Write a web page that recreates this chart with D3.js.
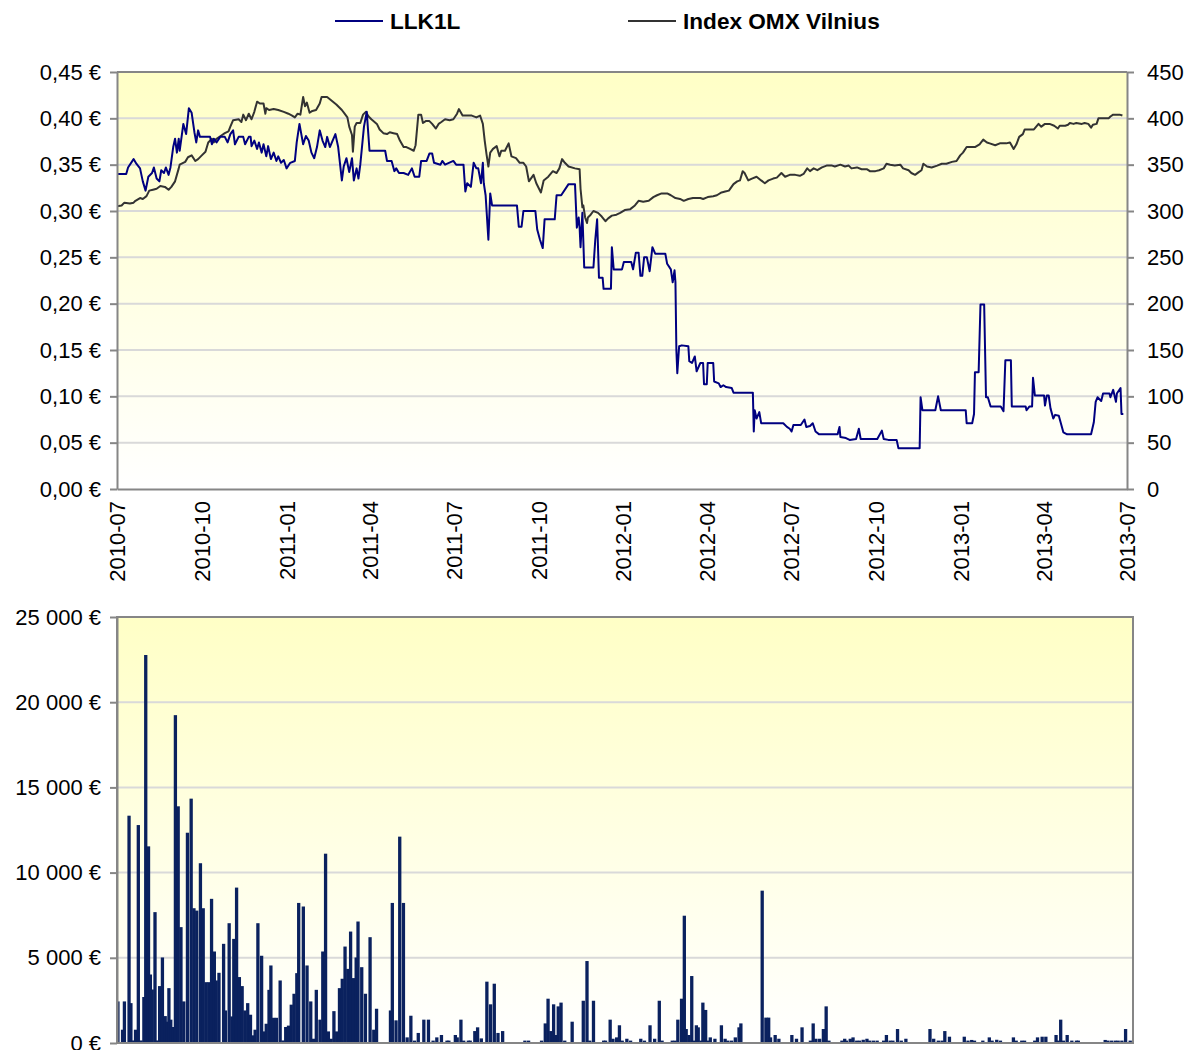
<!DOCTYPE html>
<html>
<head>
<meta charset="utf-8">
<script src="https://cdn.jsdelivr.net/npm/d3@7"></script>
<style>
  body { margin: 0; background: #fff; }
  text { font-family: Arial, "Liberation Sans", sans-serif; fill: #000; }
</style>
</head>
<body>
<svg id="chart" width="1188" height="1050"></svg>
<script>
// LLK1L share price, EUR
const llk1l = [
  ["2010-07-01",0.34],["2010-07-11",0.34],["2010-07-13",0.347],["2010-07-19",0.356],["2010-07-22",0.351],
  ["2010-07-26",0.346],["2010-07-29",0.332],["2010-08-01",0.322],["2010-08-04",0.337],["2010-08-08",0.341],
  ["2010-08-10",0.347],["2010-08-13",0.335],["2010-08-16",0.332],["2010-08-18",0.344],["2010-08-21",0.341],
  ["2010-08-23",0.347],["2010-08-26",0.339],["2010-08-28",0.347],["2010-08-31",0.369],["2010-09-02",0.378],
  ["2010-09-04",0.363],["2010-09-06",0.378],["2010-09-07",0.365],["2010-09-11",0.394],["2010-09-14",0.383],
  ["2010-09-17",0.411],["2010-09-20",0.406],["2010-09-23",0.385],["2010-09-25",0.374],["2010-09-27",0.387],
  ["2010-09-29",0.38],["2010-10-10",0.38],["2010-10-12",0.372],["2010-10-14",0.378],["2010-10-17",0.374],
  ["2010-10-21",0.38],["2010-10-26",0.38],["2010-10-29",0.374],["2010-11-01",0.383],["2010-11-04",0.387],
  ["2010-11-06",0.372],["2010-11-10",0.38],["2010-11-15",0.38],["2010-11-17",0.372],["2010-11-21",0.38],
  ["2010-11-23",0.38],["2010-11-24",0.37],["2010-11-27",0.376],["2010-11-30",0.367],["2010-12-02",0.374],
  ["2010-12-05",0.363],["2010-12-07",0.372],["2010-12-10",0.359],["2010-12-12",0.37],["2010-12-15",0.356],
  ["2010-12-18",0.363],["2010-12-21",0.354],["2010-12-23",0.359],["2010-12-26",0.352],["2010-12-29",0.355],
  ["2011-01-01",0.346],["2011-01-05",0.352],["2011-01-10",0.354],["2011-01-12",0.374],["2011-01-15",0.394],
  ["2011-01-17",0.383],["2011-01-19",0.372],["2011-01-22",0.381],["2011-01-25",0.376],["2011-01-28",0.363],
  ["2011-01-31",0.357],["2011-02-03",0.369],["2011-02-06",0.387],["2011-02-09",0.376],["2011-02-12",0.369],
  ["2011-02-14",0.38],["2011-02-17",0.369],["2011-02-20",0.376],["2011-02-23",0.383],["2011-02-26",0.369],
  ["2011-03-02",0.333],["2011-03-04",0.348],["2011-03-07",0.357],["2011-03-10",0.342],["2011-03-13",0.357],
  ["2011-03-15",0.333],["2011-03-18",0.346],["2011-03-20",0.335],["2011-03-22",0.35],["2011-03-26",0.391],
  ["2011-03-29",0.407],["2011-04-01",0.365],["2011-04-18",0.365],["2011-04-20",0.354],["2011-04-25",0.354],
  ["2011-04-28",0.343],["2011-04-30",0.346],["2011-05-03",0.341],["2011-05-08",0.341],["2011-05-13",0.339],
  ["2011-05-17",0.346],["2011-05-20",0.337],["2011-05-25",0.337],["2011-05-27",0.354],["2011-06-02",0.354],
  ["2011-06-05",0.362],["2011-06-08",0.362],["2011-06-10",0.352],["2011-06-17",0.35],["2011-06-19",0.354],
  ["2011-06-22",0.35],["2011-07-01",0.354],["2011-07-04",0.35],["2011-07-12",0.35],["2011-07-14",0.321],
  ["2011-07-16",0.33],["2011-07-20",0.326],["2011-07-23",0.352],["2011-07-26",0.346],["2011-07-28",0.346],
  ["2011-07-31",0.33],["2011-08-02",0.352],["2011-08-03",0.33],["2011-08-05",0.317],["2011-08-08",0.269],
  ["2011-08-10",0.319],["2011-08-12",0.306],["2011-09-08",0.306],["2011-09-10",0.283],["2011-09-13",0.283],
  ["2011-09-15",0.30],["2011-09-28",0.30],["2011-09-30",0.28],["2011-10-03",0.269],["2011-10-06",0.26],
  ["2011-10-08",0.291],["2011-10-19",0.291],["2011-10-21",0.317],["2011-10-26",0.317],["2011-11-03",0.329],
  ["2011-11-10",0.329],["2011-11-12",0.282],["2011-11-14",0.293],["2011-11-15",0.282],["2011-11-16",0.261],
  ["2011-11-18",0.298],["2011-11-20",0.239],["2011-11-30",0.239],["2011-12-02",0.269],["2011-12-04",0.291],
  ["2011-12-06",0.228],["2011-12-10",0.228],["2011-12-11",0.216],["2011-12-19",0.216],["2011-12-20",0.261],
  ["2011-12-22",0.237],["2011-12-31",0.237],["2012-01-02",0.245],["2012-01-10",0.245],["2012-01-12",0.237],
  ["2012-01-15",0.255],["2012-01-18",0.255],["2012-01-20",0.23],["2012-01-22",0.23],["2012-01-24",0.25],
  ["2012-01-27",0.25],["2012-01-30",0.235],["2012-02-02",0.261],["2012-02-05",0.254],["2012-02-16",0.254],
  ["2012-02-18",0.243],["2012-02-22",0.237],["2012-02-24",0.223],["2012-02-26",0.236],["2012-02-27",0.223],
  ["2012-02-28",0.15],["2012-02-29",0.125],["2012-03-02",0.154],["2012-03-05",0.155],["2012-03-12",0.154],
  ["2012-03-13",0.138],["2012-03-16",0.136],["2012-03-19",0.143],["2012-03-21",0.127],["2012-03-25",0.136],
  ["2012-03-28",0.136],["2012-03-29",0.113],["2012-04-01",0.113],["2012-04-02",0.136],["2012-04-08",0.136],
  ["2012-04-09",0.116],["2012-04-14",0.114],["2012-04-16",0.11],["2012-04-19",0.112],["2012-04-22",0.11],
  ["2012-04-28",0.109],["2012-04-30",0.104],["2012-05-21",0.104],["2012-05-22",0.062],["2012-05-23",0.085],
  ["2012-05-25",0.076],["2012-05-28",0.083],["2012-05-30",0.071],["2012-06-05",0.071],["2012-06-23",0.071],
  ["2012-06-27",0.067],["2012-06-30",0.065],["2012-07-02",0.062],["2012-07-04",0.069],["2012-07-12",0.069],
  ["2012-07-16",0.075],["2012-07-18",0.067],["2012-07-22",0.068],["2012-07-25",0.071],["2012-07-28",0.062],
  ["2012-08-01",0.059],["2012-08-21",0.059],["2012-08-23",0.067],["2012-08-24",0.056],["2012-08-30",0.055],
  ["2012-09-03",0.053],["2012-09-10",0.054],["2012-09-13",0.065],["2012-09-15",0.054],["2012-10-03",0.054],
  ["2012-10-08",0.063],["2012-10-10",0.054],["2012-10-15",0.053],["2012-10-24",0.053],["2012-10-26",0.044],
  ["2012-11-18",0.044],["2012-11-19",0.099],["2012-11-21",0.085],["2012-12-05",0.085],["2012-12-08",0.10],
  ["2012-12-11",0.085],["2013-01-07",0.085],["2013-01-08",0.071],["2013-01-14",0.071],["2013-01-16",0.081],
  ["2013-01-17",0.126],["2013-01-21",0.126],["2013-01-23",0.199],["2013-01-27",0.199],["2013-01-29",0.099],
  ["2013-01-31",0.099],["2013-02-03",0.089],["2013-02-14",0.089],["2013-02-17",0.084],["2013-02-19",0.139],
  ["2013-02-25",0.139],["2013-02-26",0.089],["2013-03-13",0.089],["2013-03-14",0.085],["2013-03-17",0.089],
  ["2013-03-20",0.089],["2013-03-21",0.12],["2013-03-23",0.101],["2013-04-02",0.101],["2013-04-03",0.09],
  ["2013-04-05",0.101],["2013-04-07",0.101],["2013-04-09",0.087],["2013-04-12",0.076],["2013-04-14",0.08],
  ["2013-04-18",0.079],["2013-04-23",0.061],["2013-04-27",0.059],["2013-05-23",0.059],["2013-05-26",0.072],
  ["2013-05-28",0.094],["2013-05-30",0.099],["2013-06-03",0.095],["2013-06-05",0.103],["2013-06-12",0.103],
  ["2013-06-13",0.099],["2013-06-16",0.107],["2013-06-19",0.094],["2013-06-20",0.103],["2013-06-24",0.109],
  ["2013-06-25",0.081],["2013-06-27",0.081]
];

// OMX Vilnius index, points
const omxVilnius = [
  ["2010-07-01",305],["2010-07-06",306],["2010-07-09",309],["2010-07-15",308],["2010-07-19",309],
  ["2010-07-21",311],["2010-07-26",314],["2010-07-29",313],["2010-08-02",316],["2010-08-05",322],
  ["2010-08-09",323],["2010-08-13",324],["2010-08-17",327],["2010-08-22",326],["2010-08-26",323],
  ["2010-08-29",326],["2010-09-02",332],["2010-09-06",346],["2010-09-07",350],["2010-09-13",353],
  ["2010-09-16",358],["2010-09-20",360],["2010-09-24",354],["2010-09-27",356],["2010-10-01",360],
  ["2010-10-05",364],["2010-10-08",374],["2010-10-12",378],["2010-10-14",374],["2010-10-17",378],
  ["2010-10-23",382],["2010-10-26",384],["2010-10-30",386],["2010-11-01",391],["2010-11-04",398],
  ["2010-11-10",399],["2010-11-13",396],["2010-11-15",404],["2010-11-18",398],["2010-11-21",405],
  ["2010-11-24",399],["2010-11-27",407],["2010-11-30",418],["2010-12-03",416],["2010-12-07",416],
  ["2010-12-09",405],["2010-12-10",411],["2010-12-13",409],["2010-12-18",410],["2010-12-23",409],
  ["2010-12-29",407],["2011-01-03",405],["2011-01-07",403],["2011-01-10",401],["2011-01-13",405],
  ["2011-01-16",404],["2011-01-19",423],["2011-01-21",413],["2011-01-23",417],["2011-01-26",406],
  ["2011-01-29",408],["2011-02-02",409],["2011-02-06",416],["2011-02-08",423],["2011-02-14",423],
  ["2011-02-19",419],["2011-02-24",415],["2011-03-02",409],["2011-03-05",405],["2011-03-08",401],
  ["2011-03-10",391],["2011-03-13",382],["2011-03-14",364],["2011-03-16",391],["2011-03-18",395],
  ["2011-03-22",395],["2011-03-25",404],["2011-03-28",407],["2011-03-31",402],["2011-04-03",399],
  ["2011-04-09",394],["2011-04-12",388],["2011-04-16",384],["2011-04-20",383],["2011-04-23",385],
  ["2011-04-27",384],["2011-05-01",383],["2011-05-04",376],["2011-05-08",369],["2011-05-11",369],
  ["2011-05-15",367],["2011-05-19",365],["2011-05-21",371],["2011-05-24",404],["2011-05-27",404],
  ["2011-05-29",395],["2011-06-01",397],["2011-06-05",397],["2011-06-08",394],["2011-06-12",389],
  ["2011-06-15",394],["2011-06-18",396],["2011-06-22",399],["2011-06-27",398],["2011-07-01",399],
  ["2011-07-05",405],["2011-07-07",410],["2011-07-11",403],["2011-07-21",403],["2011-07-26",401],
  ["2011-07-30",403],["2011-08-02",394],["2011-08-04",376],["2011-08-06",361],["2011-08-08",348],
  ["2011-08-10",363],["2011-08-13",367],["2011-08-17",370],["2011-08-20",359],["2011-08-22",365],
  ["2011-08-26",365],["2011-08-30",373],["2011-09-02",359],["2011-09-07",357],["2011-09-11",352],
  ["2011-09-15",352],["2011-09-18",348],["2011-09-21",332],["2011-09-26",339],["2011-09-29",330],
  ["2011-10-04",320],["2011-10-07",333],["2011-10-12",337],["2011-10-17",343],["2011-10-21",341],
  ["2011-10-24",346],["2011-10-27",356],["2011-10-30",352],["2011-11-03",348],["2011-11-10",346],
  ["2011-11-15",345],["2011-11-16",324],["2011-11-18",304],["2011-11-19",306],["2011-11-21",293],
  ["2011-11-23",287],["2011-11-24",293],["2011-11-27",296],["2011-11-30",300],["2011-12-05",298],
  ["2011-12-09",294],["2011-12-13",289],["2011-12-16",292],["2011-12-20",295],["2011-12-25",296],
  ["2011-12-29",298],["2012-01-03",301],["2012-01-09",302],["2012-01-14",306],["2012-01-18",311],
  ["2012-01-23",310],["2012-01-29",311],["2012-02-03",315],["2012-02-07",317],["2012-02-12",319],
  ["2012-02-18",319],["2012-02-22",317],["2012-02-27",314],["2012-03-03",313],["2012-03-07",311],
  ["2012-03-12",313],["2012-03-17",314],["2012-03-25",314],["2012-03-28",313],["2012-04-02",315],
  ["2012-04-08",316],["2012-04-12",317],["2012-04-17",320],["2012-04-21",321],["2012-04-25",322],
  ["2012-04-30",329],["2012-05-04",332],["2012-05-07",333],["2012-05-10",343],["2012-05-12",341],
  ["2012-05-16",333],["2012-05-20",335],["2012-05-25",337],["2012-05-30",333],["2012-06-03",330],
  ["2012-06-07",333],["2012-06-12",335],["2012-06-16",336],["2012-06-21",341],["2012-06-25",337],
  ["2012-06-30",339],["2012-07-06",339],["2012-07-11",338],["2012-07-15",340],["2012-07-19",346],
  ["2012-07-22",343],["2012-07-26",346],["2012-07-30",344],["2012-08-04",347],["2012-08-09",349],
  ["2012-08-15",349],["2012-08-18",348],["2012-08-24",350],["2012-08-29",348],["2012-09-02",349],
  ["2012-09-05",346],["2012-09-11",347],["2012-09-16",345],["2012-09-22",345],["2012-09-25",343],
  ["2012-10-01",343],["2012-10-05",344],["2012-10-10",346],["2012-10-13",351],["2012-10-17",350],
  ["2012-10-22",349],["2012-10-28",350],["2012-10-31",346],["2012-11-06",344],["2012-11-09",341],
  ["2012-11-13",339],["2012-11-17",342],["2012-11-20",344],["2012-11-22",351],["2012-11-26",348],
  ["2012-12-01",347],["2012-12-07",349],["2012-12-12",351],["2012-12-17",351],["2012-12-23",353],
  ["2012-12-28",354],["2013-01-01",360],["2013-01-04",363],["2013-01-08",369],["2013-01-13",369],
  ["2013-01-17",369],["2013-01-22",372],["2013-01-26",377],["2013-01-30",374],["2013-02-02",373],
  ["2013-02-08",371],["2013-02-13",373],["2013-02-20",373],["2013-02-24",374],["2013-02-28",367],
  ["2013-03-03",372],["2013-03-06",380],["2013-03-10",383],["2013-03-12",388],["2013-03-22",388],
  ["2013-03-27",394],["2013-03-30",391],["2013-04-03",394],["2013-04-08",394],["2013-04-13",392],
  ["2013-04-17",389],["2013-04-19",392],["2013-04-25",392],["2013-04-28",393],["2013-04-30",395],
  ["2013-05-04",394],["2013-05-07",395],["2013-05-13",394],["2013-05-16",395],["2013-05-20",394],
  ["2013-05-23",390],["2013-05-25",393],["2013-05-29",394],["2013-05-31",400],["2013-06-11",400],
  ["2013-06-13",402],["2013-06-16",404],["2013-06-23",404],["2013-06-26",403]
];

// daily turnover, EUR
const turnover = [
  ["2010-07-02",2440],["2010-07-07",780],["2010-07-09",2440],["2010-07-14",13340],["2010-07-16",2340],
  ["2010-07-19",150],["2010-07-21",780],["2010-07-24",12790],["2010-07-27",150],["2010-07-30",2700],
  ["2010-08-01",22770],["2010-08-04",11540],["2010-08-06",4020],["2010-08-08",3140],["2010-08-11",7680],
  ["2010-08-13",150],["2010-08-16",3340],["2010-08-19",5020],["2010-08-22",1580],["2010-08-24",1250],
  ["2010-08-26",3220],["2010-08-28",1370],["2010-08-31",940],["2010-09-02",19240],["2010-09-05",13890],
  ["2010-09-08",6800],["2010-09-11",2440],["2010-09-15",12340],["2010-09-19",14340],["2010-09-22",7910],
  ["2010-09-25",7770],["2010-09-29",10550],["2010-10-02",7910],["2010-10-05",3570],["2010-10-08",3570],
  ["2010-10-11",8460],["2010-10-14",5370],["2010-10-16",3670],["2010-10-19",4120],["2010-10-24",5820],
  ["2010-10-26",1910],["2010-10-30",7030],["2010-11-02",1560],["2010-11-04",6110],["2010-11-07",9120],
  ["2010-11-10",3870],["2010-11-13",3340],["2010-11-16",1910],["2010-11-19",2340],["2010-11-22",1660],
  ["2010-11-25",450],["2010-11-27",780],["2010-11-30",7030],["2010-12-04",5120],["2010-12-07",680],
  ["2010-12-09",1130],["2010-12-12",3120],["2010-12-14",4550],["2010-12-17",1480],["2010-12-20",1480],
  ["2010-12-24",3670],["2010-12-27",150],["2010-12-30",940],["2011-01-02",1020],["2011-01-05",2250],
  ["2011-01-08",2890],["2011-01-11",4100],["2011-01-13",8220],["2011-01-18",8010],["2011-01-22",4550],
  ["2011-01-26",2440],["2011-01-29",250],["2011-02-01",3120],["2011-02-05",1370],["2011-02-08",5370],
  ["2011-02-11",11110],["2011-02-14",680],["2011-02-17",250],["2011-02-20",1870],["2011-02-23",680],
  ["2011-02-26",3220],["2011-03-01",3770],["2011-03-04",5660],["2011-03-07",4350],["2011-03-10",6540],
  ["2011-03-13",3810],["2011-03-16",5020],["2011-03-18",7130],["2011-03-22",4450],["2011-03-26",2890],
  ["2011-03-31",6210],["2011-04-04",780],["2011-04-07",2010],["2011-04-22",1910],["2011-04-24",8220],
  ["2011-04-28",1330],["2011-05-02",12110],["2011-05-06",8220],["2011-05-10",330],["2011-05-14",1600],
  ["2011-05-18",140],["2011-05-22",590],["2011-05-28",1370],["2011-06-02",1370],["2011-06-07",140],
  ["2011-06-11",330],["2011-06-16",470],["2011-06-22",140],["2011-06-24",140],["2011-07-01",470],
  ["2011-07-03",330],["2011-07-07",1370],["2011-07-10",140],["2011-07-15",140],["2011-07-17",140],
  ["2011-07-22",700],["2011-07-25",920],["2011-07-29",270],["2011-08-04",3600],["2011-08-08",2270],
  ["2011-08-12",3480],["2011-08-16",590],["2011-08-21",700],["2011-09-14",140],["2011-09-18",140],
  ["2011-10-02",140],["2011-10-06",1150],["2011-10-09",2600],["2011-10-12",700],["2011-10-15",2270],
  ["2011-10-17",470],["2011-10-20",2150],["2011-10-23",2370],["2011-10-27",140],["2011-11-04",1250],
  ["2011-11-16",2480],["2011-11-20",4810],["2011-11-23",140],["2011-11-27",2480],["2011-12-08",140],
  ["2011-12-10",140],["2011-12-15",1370],["2011-12-18",250],["2011-12-22",330],["2011-12-25",1040],
  ["2011-12-28",140],["2012-01-02",250],["2012-01-06",140],["2012-01-17",250],["2012-01-21",140],
  ["2012-01-27",1040],["2012-02-01",250],["2012-02-06",2480],["2012-02-09",140],["2012-02-20",140],
  ["2012-02-23",140],["2012-02-26",1370],["2012-03-01",2600],["2012-03-04",7470],["2012-03-06",820],
  ["2012-03-09",470],["2012-03-12",3930],["2012-03-15",140],["2012-03-17",1040],["2012-03-19",920],
  ["2012-03-22",140],["2012-03-24",2370],["2012-03-27",1940],["2012-03-29",140],["2012-04-01",330],
  ["2012-04-06",250],["2012-04-13",1040],["2012-04-17",250],["2012-04-20",140],["2012-04-24",140],
  ["2012-04-28",330],["2012-05-02",920],["2012-05-04",1150],["2012-05-27",8940],["2012-05-31",1490],
  ["2012-06-03",1490],["2012-06-05",330],["2012-06-10",470],["2012-06-14",250],["2012-06-28",470],
  ["2012-07-03",250],["2012-07-09",920],["2012-07-18",140],["2012-07-21",1150],["2012-07-24",250],
  ["2012-07-28",250],["2012-08-01",820],["2012-08-04",2150],["2012-08-07",140],["2012-08-21",140],
  ["2012-08-24",250],["2012-08-26",140],["2012-08-30",250],["2012-09-02",330],["2012-09-06",140],
  ["2012-09-09",140],["2012-09-13",190],["2012-09-17",250],["2012-09-20",140],["2012-09-24",140],
  ["2012-09-28",140],["2012-10-05",140],["2012-10-08",470],["2012-10-12",140],["2012-10-15",140],
  ["2012-10-20",820],["2012-10-24",140],["2012-10-29",250],["2012-11-24",820],["2012-11-28",250],
  ["2012-12-03",140],["2012-12-07",140],["2012-12-10",700],["2012-12-15",370],["2012-12-31",370],
  ["2013-01-04",140],["2013-01-08",180],["2013-01-11",140],["2013-01-20",140],["2013-01-27",330],
  ["2013-01-30",140],["2013-02-04",190],["2013-02-08",140],["2013-02-22",330],["2013-02-25",140],
  ["2013-03-03",140],["2013-03-06",140],["2013-03-17",140],["2013-03-20",330],["2013-03-25",370],
  ["2013-03-29",370],["2013-04-09",470],["2013-04-11",140],["2013-04-14",1370],["2013-04-17",140],
  ["2013-04-21",470],["2013-04-26",140],["2013-05-01",140],["2013-05-03",140],["2013-06-01",180],
  ["2013-06-04",140],["2013-06-08",140],["2013-06-12",140],["2013-06-15",140],["2013-06-19",140],
  ["2013-06-23",820],["2013-06-28",140]
];

const seriesNames = ["LLK1L", "Index OMX Vilnius"];
const priceTicks = [0, 0.05, 0.1, 0.15, 0.2, 0.25, 0.3, 0.35, 0.4, 0.45];
const indexTicks = [0, 50, 100, 150, 200, 250, 300, 350, 400, 450];
const turnoverTicks = [0, 5000, 10000, 15000, 20000, 25000];

const parse = d3.timeParse("%Y-%m-%d");
const locale = d3.formatLocale({ decimal: ",", thousands: "\u00a0", grouping: [3], currency: ["", "\u00a0€"] });
const fmtPrice = (v) => locale.format(".2f")(v) + " €";
const fmtEur = (v) => locale.format(",.0f")(v) + " €";

const svg = d3.select("#chart");
const domain = [parse("2010-07-01"), parse("2013-07-01")];
const axisGrey = "#868686";
const gridGrey = "#d9d9d9";
const labelSize = 22;

const defs = svg.append("defs");
const grad = defs.append("linearGradient").attr("id", "bg").attr("x1", 0).attr("y1", 0).attr("x2", 0).attr("y2", 1);
grad.append("stop").attr("offset", "0%").attr("stop-color", "#ffffc6");
grad.append("stop").attr("offset", "100%").attr("stop-color", "#ffffff");

// ---------- top panel ----------
const topBox = { left: 117, right: 1127, top: 72, bottom: 489 };
const x = d3.scaleTime().domain(domain).range([topBox.left, topBox.right]);
const yPrice = d3.scaleLinear().domain([0, 0.45]).range([topBox.bottom, topBox.top]);
const yIndex = d3.scaleLinear().domain([0, 450]).range([topBox.bottom, topBox.top]);

svg.append("rect")
  .attr("x", topBox.left).attr("y", topBox.top)
  .attr("width", topBox.right - topBox.left).attr("height", topBox.bottom - topBox.top)
  .attr("fill", "url(#bg)");

svg.append("g").selectAll("line").data(priceTicks.slice(1)).join("line")
  .attr("x1", topBox.left).attr("x2", topBox.right)
  .attr("y1", d => yPrice(d)).attr("y2", d => yPrice(d))
  .attr("stroke", gridGrey).attr("stroke-width", 2);

defs.append("clipPath").attr("id", "clipTop").append("rect")
  .attr("x", topBox.left).attr("y", topBox.top - 2)
  .attr("width", topBox.right - topBox.left).attr("height", topBox.bottom - topBox.top + 2);

const lineIndex = d3.line().x(d => x(parse(d[0]))).y(d => yIndex(d[1]));
const linePrice = d3.line().x(d => x(parse(d[0]))).y(d => yPrice(d[1]));

svg.append("path").datum(omxVilnius)
  .attr("clip-path", "url(#clipTop)")
  .attr("d", lineIndex).attr("fill", "none")
  .attr("stroke", "#333333").attr("stroke-width", 2).attr("stroke-linejoin", "round");

svg.append("path").datum(llk1l)
  .attr("clip-path", "url(#clipTop)")
  .attr("d", linePrice).attr("fill", "none")
  .attr("stroke", "#000080").attr("stroke-width", 2).attr("stroke-linejoin", "round");

// top border
svg.append("line")
  .attr("x1", topBox.left).attr("x2", topBox.right).attr("y1", topBox.top).attr("y2", topBox.top)
  .attr("stroke", axisGrey).attr("stroke-width", 2);

const styleAxis = (g) => {
  g.selectAll(".domain").attr("stroke", axisGrey).attr("stroke-width", 2);
  g.selectAll(".tick line").attr("stroke", axisGrey).attr("stroke-width", 2);
  g.selectAll("text").attr("font-size", labelSize).attr("fill", "#000")
    .attr("font-family", "Arial, 'Liberation Sans', sans-serif");
};

svg.append("g")
  .attr("transform", `translate(${topBox.left},0)`)
  .call(d3.axisLeft(yPrice).tickValues(priceTicks).tickFormat(fmtPrice).tickSize(7).tickSizeOuter(0).tickPadding(9))
  .call(styleAxis);

svg.append("g")
  .attr("transform", `translate(${topBox.right},0)`)
  .call(d3.axisRight(yIndex).tickValues(indexTicks).tickFormat(d3.format("d")).tickSize(7).tickSizeOuter(0).tickPadding(13))
  .call(styleAxis);

const quarterTicks = d3.timeMonth.every(3).range(domain[0], d3.timeDay.offset(domain[1], 1));
svg.append("g")
  .attr("transform", `translate(0,${topBox.bottom})`)
  .call(d3.axisBottom(x).tickValues(quarterTicks).tickFormat(d3.timeFormat("%Y-%m")).tickSize(0).tickSizeOuter(0))
  .call(styleAxis)
  .call(g => g.selectAll("text")
    .attr("transform", "rotate(-90)")
    .attr("text-anchor", "end")
    .attr("x", -12).attr("y", 0).attr("dy", "0.36em"));

// legend
const legend = svg.append("g");
const legendItems = [
  { name: seriesNames[0], color: "#000080", x0: 335 },
  { name: seriesNames[1], color: "#333333", x0: 628 }
];
legendItems.forEach(item => {
  legend.append("line")
    .attr("x1", item.x0).attr("x2", item.x0 + 48).attr("y1", 21).attr("y2", 21)
    .attr("stroke", item.color).attr("stroke-width", 2);
  legend.append("text")
    .attr("x", item.x0 + 55).attr("y", 21).attr("dy", "0.36em")
    .attr("font-size", 22.6).attr("font-weight", "bold")
    .text(item.name);
});

// ---------- bottom panel ----------
const botBox = { left: 117, right: 1133, top: 617, bottom: 1043 };
const x2 = d3.scaleTime().domain(domain).range([botBox.left, botBox.right]);
const yTurn = d3.scaleLinear().domain([0, 25000]).range([botBox.bottom, botBox.top]);

svg.append("rect")
  .attr("x", botBox.left).attr("y", botBox.top)
  .attr("width", botBox.right - botBox.left).attr("height", botBox.bottom - botBox.top)
  .attr("fill", "url(#bg)");

svg.append("g").selectAll("line").data(turnoverTicks.slice(1, -1)).join("line")
  .attr("x1", botBox.left).attr("x2", botBox.right)
  .attr("y1", d => yTurn(d)).attr("y2", d => yTurn(d))
  .attr("stroke", gridGrey).attr("stroke-width", 2);

const barW = 3.3;
svg.append("g").selectAll("rect").data(turnover).join("rect")
  .attr("x", d => x2(parse(d[0])) - barW / 2)
  .attr("y", d => yTurn(d[1]))
  .attr("width", barW)
  .attr("height", d => yTurn(0) - yTurn(d[1]))
  .attr("fill", "#0a215e");

svg.append("rect")
  .attr("x", botBox.left).attr("y", botBox.top)
  .attr("width", botBox.right - botBox.left).attr("height", botBox.bottom - botBox.top)
  .attr("fill", "none").attr("stroke", axisGrey).attr("stroke-width", 2);

svg.append("g")
  .attr("transform", `translate(${botBox.left},0)`)
  .call(d3.axisLeft(yTurn).tickValues(turnoverTicks).tickFormat(fmtEur).tickSize(7).tickSizeOuter(0).tickPadding(9))
  .call(styleAxis);
</script>
</body>
</html>
